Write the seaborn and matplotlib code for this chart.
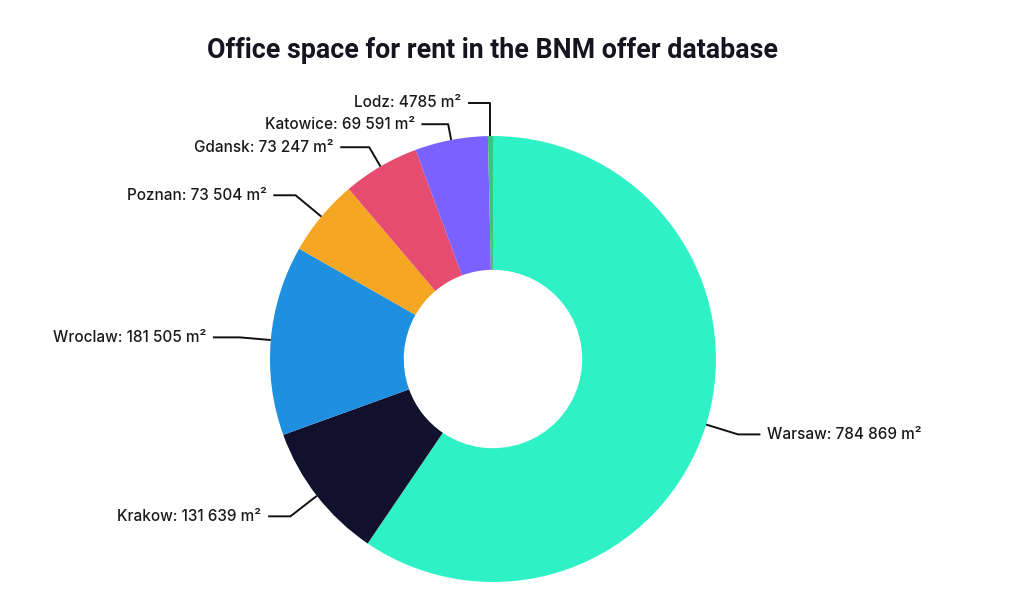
import matplotlib
matplotlib.use("Agg")
import matplotlib.pyplot as plt
import numpy as np
import seaborn as sns

cities = ["Warsaw", "Krakow", "Wroclaw", "Poznan", "Gdansk", "Katowice", "Lodz"]
area = [784869, 131639, 181505, 73504, 73247, 69591, 4785]
colors = ["#2EF2C6", "#12112D", "#1F8FE0", "#F5A623", "#E64B70", "#7B61FF", "#3CC47C"]

sns.set_theme(style="white")
plt.rcParams["font.family"] = ["Inter", "DejaVu Sans"]


def fmt(v):
    if v < 10000:
        return str(v)
    return f"{v:,}".replace(",", " ")


fig = plt.figure(figsize=(10.13, 6.10), dpi=100)
fig.patch.set_facecolor("white")
ax = fig.add_axes([0.2665, 0.0459, 0.4403, 0.7311])

wedges, _ = ax.pie(area, colors=colors, startangle=90, counterclock=False,
                   radius=1.0, wedgeprops=dict(width=0.6, linewidth=0))
ax.set_xlim(-1, 1)
ax.set_ylim(-1, 1)
ax.set_aspect("auto")
ax.axis("off")

# leader line elbows: radius and horizontal run, tuned per label
elbow_r = {"Katowice": 1.072, "Gdansk": 1.10, "Wroclaw": 1.14}
run = {"Katowice": 0.12, "Wroclaw": 0.12, "Gdansk": 0.13}
for w, name, v in zip(wedges, cities, area):
    ang = np.deg2rad((w.theta1 + w.theta2) / 2)
    x0, y0 = np.cos(ang), np.sin(ang)
    r = elbow_r.get(name, 1.15)
    x1, y1 = r * x0, r * y0
    side = 1 if x0 > 0 else -1
    if name == "Lodz":
        x1 = x0
    x2 = x1 + side * run.get(name, 0.10)
    ax.plot([x0, x1, x2], [y0, y1, y1], color="#111111", lw=1.4,
            solid_capstyle="butt", clip_on=False)
    ax.text(x2 + side * 0.03, y1, f"{name}: {fmt(v)} m²",
            ha="left" if side > 0 else "right", va="center",
            fontsize=11, fontweight="medium", color="#1a1a1a")

fig.text(0.4866, 0.918, "Office space for rent in the BNM offer database",
         ha="center", va="center", fontsize=19.3, fontweight="bold",
         family=["Roboto", "DejaVu Sans"], color="#15151f")

fig.savefig("out.png", dpi=100, facecolor="white")
